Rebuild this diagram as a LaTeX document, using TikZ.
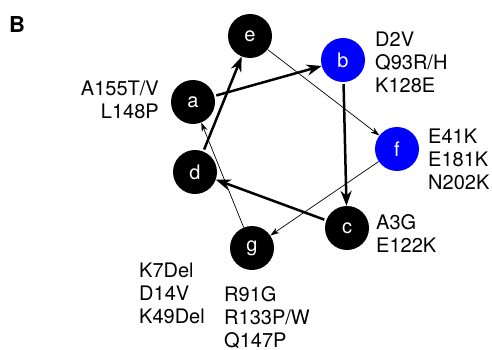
\documentclass[tikz,border=0pt]{standalone}
\usepackage{fontspec}
\setmainfont{TeX Gyre Heros}
\usetikzlibrary{arrows.meta}
\tikzset{
  res/.style={circle, fill=black, text=white, minimum size=44pt, inner sep=0pt,
    font=\fontsize{20}{20}\selectfont},
  hot/.style={res, fill=blue},
  muts/.style={inner sep=0pt, font=\fontsize{20}{23}\selectfont},
  strong/.style={line width=2.5pt, -{Stealth[length=15pt,width=11pt]}, shorten <=2pt},
  weak/.style={line width=0.7pt, -{Stealth[length=9pt,width=6pt]}},
}
\begin{document}
\begin{tikzpicture}[x=1pt,y=-1pt]
      \useasboundingbox (0,0) rectangle (492,350);
      \node[anchor=north west, inner sep=0pt, font=\fontsize{22}{22}\selectfont\bfseries] (panel) at (9,16) {B};
      \draw
        (193,102) node[res] (a){a}
        (343,60) node[hot] (b){b}
        (347,228) node[res] (c){c}
        (195,172) node[res] (d){d}
        (250,36) node[res] (e){e}
        (397,149) node[hot] (f){f}
        (252,248) node[res] (g){g};
      \node[muts, align=right, anchor=north east] (muta) at (159,81) {A155T/V\\L148P};
      \node[muts, align=left, anchor=north west] (mutb) at (375,32) {D2V\\Q93R/H\\K128E};
      \node[muts, align=left, anchor=north west] (mutf) at (428,129) {E41K\\E181K\\N202K};
      \node[muts, align=left, anchor=north west] (mutc) at (376,214) {A3G\\E122K};
      \node[muts, align=left, anchor=north west] (mutd) at (139,263) {K7Del\\D14V\\K49Del};
      \node[muts, align=left, anchor=north west] (mutg) at (224,286) {R91G\\R133P/W\\Q147P};
      \begin{scope}[weak]
        \draw (e) to (f);
        \draw (f) to (g);
        \draw (g) to (a);
      \end{scope}
      \begin{scope}[strong]
        \draw (a) to (b);
        \draw (b) to (c);
        \draw (c) to (d);
        \draw (d) to (e);
      \end{scope}
    \end{tikzpicture}
\end{document}
